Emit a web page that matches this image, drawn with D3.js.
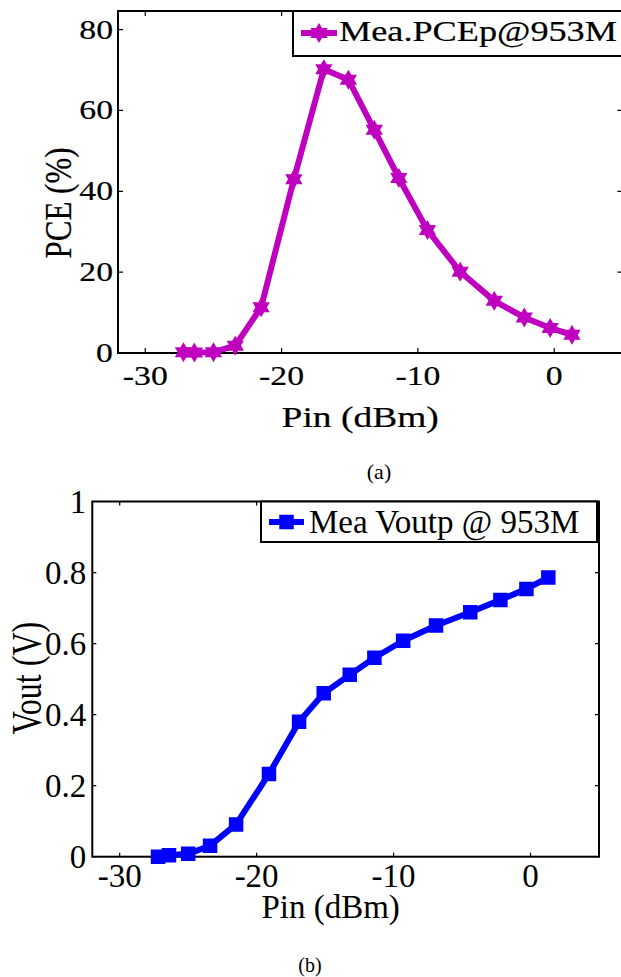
<!DOCTYPE html>
<html>
<head>
<meta charset="utf-8">
<script src="https://cdn.jsdelivr.net/npm/d3@7"></script>
<style>
  html, body { margin: 0; padding: 0; background: #fff; }
  svg { display: block; }
  text { font-family: "Liberation Serif", "Times New Roman", serif; fill: #000; }
</style>
</head>
<body>
<svg id="fig" width="621" height="977"></svg>
<script>
// Measured input power sweep (dBm), shared by both panels
const pinDbm = [-27.2, -26.4, -25.0, -23.4, -21.5, -19.1, -16.9, -15.1, -13.2, -11.4, -9.3, -6.9, -4.4, -2.2, -0.3, 1.3];
// (a) power conversion efficiency, %
const pceValues = [0.2, 0.1, 0.2, 1.8, 11.3, 43.0, 70.2, 67.6, 55.2, 43.3, 30.4, 20.1, 12.9, 8.8, 6.2, 4.5];
// (b) output voltage, V
const voutValues = [0.0, 0.004, 0.008, 0.031, 0.091, 0.233, 0.380, 0.460, 0.512, 0.560, 0.608, 0.651, 0.688, 0.723, 0.754, 0.786];

const xTicks = [-30, -20, -10, 0];
const xTickLabels = ["-30", "-20", "-10", "0"];
const pceTicks = [0, 20, 40, 60, 80];
const pceTickLabels = ["0", "20", "40", "60", "80"];
const voutTicks = [0, 0.2, 0.4, 0.6, 0.8, 1];
const voutTickLabels = ["0", "0.2", "0.4", "0.6", "0.8", "1"];

const svg = d3.select("#fig");

// text placed at x,y, stretched horizontally (on screen) by sx, optionally rotated
function label(g, x, y, str, size, anchor, sx, rotate, weight) {
  const t = g.append("text")
    .attr("transform", `translate(${x},${y}) scale(${sx},1)` + (rotate ? ` rotate(${rotate})` : ""))
    .attr("font-size", size)
    .attr("text-anchor", anchor)
    .text(str);
  if (weight) t.attr("stroke", "#000").attr("stroke-width", weight);
  return t;
}

// six-pointed star (hexagram) path centred on 0,0
function hexagram(r) {
  const pts = [];
  for (let i = 0; i < 12; i++) {
    const a = -Math.PI / 2 + i * Math.PI / 6;
    const rr = i % 2 === 0 ? r : r * 0.58;
    pts.push([rr * Math.cos(a), rr * Math.sin(a)]);
  }
  return "M" + pts.map(p => p[0].toFixed(2) + "," + p[1].toFixed(2)).join("L") + "Z";
}

function panel(opt) {
  const g = svg.append("g");
  const x = d3.scaleLinear().domain([-32, 5]).range([opt.left, opt.right]);
  const y = d3.scaleLinear().domain(opt.yDomain).range([opt.bottom, opt.top]);
  const tk = opt.tickLen;
  const w = opt.textStroke;

  // box
  g.append("rect")
    .attr("x", opt.left).attr("y", opt.top)
    .attr("width", opt.right - opt.left).attr("height", opt.bottom - opt.top)
    .attr("fill", "none").attr("stroke", "#000").attr("stroke-width", opt.axisW);

  // inward ticks on all four sides
  g.selectAll(".xt").data(xTicks).join("path")
    .attr("d", d => `M${x(d)},${opt.bottom}v${-tk}M${x(d)},${opt.top}v${tk}`)
    .attr("stroke", "#000").attr("stroke-width", 1.2);
  g.selectAll(".yt").data(opt.yTicks).join("path")
    .attr("d", d => `M${opt.left},${y(d)}h${tk}M${opt.right},${y(d)}h${-tk}`)
    .attr("stroke", "#000").attr("stroke-width", 1.2);

  // tick labels
  xTicks.forEach((d, i) => label(g, x(d), opt.bottom + opt.xLabelDy, xTickLabels[i], opt.tickFont, "middle", opt.sx, 0, w));
  opt.yTicks.forEach((d, i) => label(g, opt.left - opt.yLabelGap, y(d) + opt.yLabelDy, opt.yTickLabels[i], opt.tickFont, "end", opt.sx, 0, w));

  // axis titles
  label(g, (opt.left + opt.right) / 2 + opt.xTitleShift, opt.xTitleY, "Pin (dBm)", opt.titleFont, "middle", opt.sx, 0, w);
  label(g, opt.yTitleX, opt.yTitleY, opt.yTitle, opt.yTitleFont, "middle", opt.yTitleSx, -90, w);

  // series line
  const pts = pinDbm.map((p, i) => [p, opt.values[i]]);
  g.append("path")
    .attr("d", d3.line().x(d => x(d[0])).y(d => y(d[1]))(pts))
    .attr("fill", "none").attr("stroke", opt.color)
    .attr("stroke-width", opt.lineW).attr("stroke-linejoin", "round");

  // markers
  g.selectAll(".m").data(pts).join("path")
    .attr("transform", d => `translate(${x(d[0])},${y(d[1])})`)
    .attr("d", opt.marker)
    .attr("fill", opt.color).attr("stroke", opt.color).attr("stroke-width", 1.5);

  // legend
  const L = opt.legend;
  g.append("rect").attr("x", L.x0).attr("y", L.y0)
    .attr("width", L.x1 - L.x0).attr("height", L.y1 - L.y0)
    .attr("fill", "#fff").attr("stroke", "#000").attr("stroke-width", opt.axisW);
  g.append("line").attr("x1", L.lx0).attr("x2", L.lx1).attr("y1", L.ly).attr("y2", L.ly)
    .attr("stroke", opt.color).attr("stroke-width", opt.lineW);
  g.append("path").attr("transform", `translate(${(L.lx0 + L.lx1) / 2},${L.ly})`)
    .attr("d", opt.marker).attr("fill", opt.color).attr("stroke", opt.color).attr("stroke-width", 1.5);
  label(g, L.tx, L.ty, L.text, L.font, "start", L.sx, 0, w);
}

// (a) PCE panel
panel({
  left: 118, right: 622.4, top: 11, bottom: 353,
  yDomain: [0, 84.6], yTicks: pceTicks, yTickLabels: pceTickLabels,
  tickLen: 5, axisW: 2, sx: 1.25, tickFont: 27, titleFont: 30, textStroke: 0.2,
  xLabelDy: 32, yLabelGap: 5, yLabelDy: 9,
  xTitleShift: -10, xTitleY: 427,
  yTitleX: 71, yTitleY: 203, yTitle: "PCE (%)", yTitleFont: 31, yTitleSx: 1.2,
  values: pceValues, color: "#bf00bf", lineW: 6,
  marker: hexagram(8.5),
  legend: { x0: 293, x1: 622, y0: 11, y1: 56, lx0: 301, lx1: 337, ly: 33, tx: 339, ty: 41,
            text: "Mea.PCEp@953M", font: 29, sx: 1.25 }
});

// (b) Vout panel
panel({
  left: 92.3, right: 599, top: 501.5, bottom: 856.7,
  yDomain: [0, 1], yTicks: voutTicks, yTickLabels: voutTickLabels,
  tickLen: 4, axisW: 2, sx: 1.0, tickFont: 33, titleFont: 33, textStroke: 0,
  xLabelDy: 30, yLabelGap: 6, yLabelDy: 11,
  xTitleShift: -15, xTitleY: 918,
  yTitleX: 41, yTitleY: 678, yTitle: "Vout (V)", yTitleFont: 32, yTitleSx: 1.3,
  values: voutValues, color: "#0000ff", lineW: 6,
  marker: "M-6.5,-6.5H6.5V6.5H-6.5Z",
  legend: { x0: 261, x1: 597, y0: 501.5, y1: 542, lx0: 269, lx1: 304, ly: 522, tx: 309, ty: 533,
            text: "Mea Voutp @ 953M", font: 33, sx: 1.0 }
});

// sub-figure captions
label(svg, 379, 479, "(a)", 22, "middle", 1);
label(svg, 310, 972, "(b)", 20, "middle", 1);
</script>
</body>
</html>
